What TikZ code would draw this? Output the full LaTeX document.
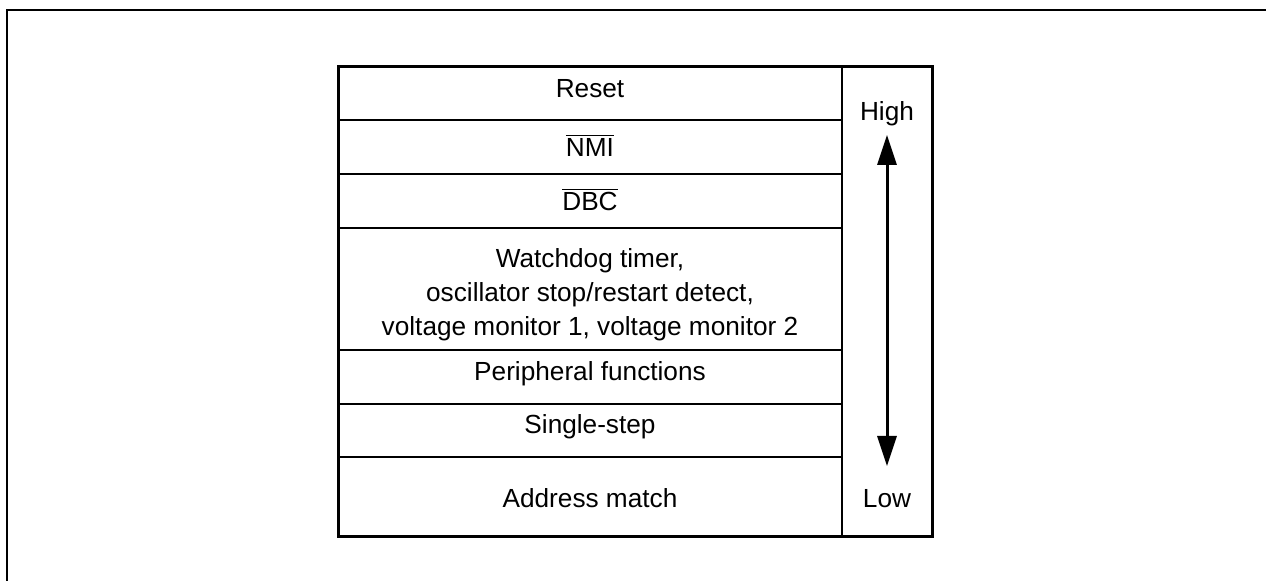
\documentclass[tikz,border=0pt]{standalone}
\usepackage{fontspec}
\setmainfont{Liberation Sans}
\usetikzlibrary{arrows.meta}
\begin{document}
\begin{tikzpicture}[x=0.5pt,y=-0.5pt,
  lbl/.style={font=\fontsize{13.1pt}{17pt}\selectfont, align=center, inner sep=0pt},
  frame/.style={line width=1.2pt},
  outer/.style={line width=1.5pt},
  inner/.style={line width=1pt},
  >={Triangle[length=15pt,width=9.5pt]}]
\useasboundingbox (0,0) rectangle (1266,581);
% outer page frame
\draw[frame] (7,600) -- (7,10) -- (1280,10);
% table
\draw[inner] (338,120) -- (842,120);
\draw[inner] (338,174) -- (842,174);
\draw[inner] (338,228) -- (842,228);
\draw[inner] (338,350) -- (842,350);
\draw[inner] (338,404) -- (842,404);
\draw[inner] (338,457) -- (842,457);
\draw[inner] (842,67) -- (842,537);
\draw[outer] (338,67) rectangle (932,537);
% labels
\node[lbl] (reset) at (590,89) {Reset};
\node[lbl] (nmi) at (590,145) {$\overline{\mbox{NMI}}$};
\node[lbl] (dbc) at (590,199) {$\overline{\mbox{DBC}}$};
\node[lbl] (wdt) at (590,295) {Watchdog timer,\\oscillator stop/restart detect,\\voltage monitor 1, voltage monitor 2};
\node[lbl] (per) at (590,374) {Peripheral functions};
\node[lbl] (ss) at (590,427) {Single-step};
\node[lbl] (am) at (590,498) {Address match};
\node[lbl] (high) at (887,114) {High};
\node[lbl] (low) at (887,499) {Low};
% arrow
\coordinate (atop) at (887,135);
\coordinate (abot) at (887,466);
\draw[line width=1.5pt, <->] (atop) -- (abot);
\end{tikzpicture}
\end{document}
